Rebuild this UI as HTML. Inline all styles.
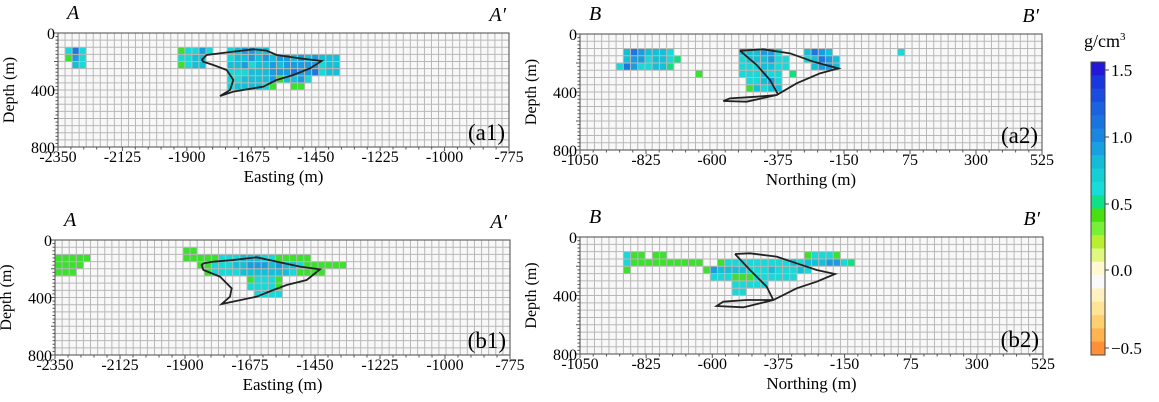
<!DOCTYPE html>
<html><head><meta charset="utf-8"><style>
body{margin:0;background:#fff;width:1159px;height:402px;overflow:hidden;font-family:"Liberation Serif",serif}
svg{position:absolute;left:0;top:0}
text{font-family:"Liberation Serif",serif}
</style></head><body>
<svg id="s" width="1159" height="402" xmlns="http://www.w3.org/2000/svg" font-family="'Liberation Serif', serif"></svg>
<script>
(function(){
const S=document.getElementById('s');let h='';
const C={c:'#18d8d8',t:'#14c0d8',b:'#1a9ce0',d:'#1a78e0',g:'#3ee030',e:'#10e080'};
function panel(L,R,T,B,xt,xl,lab,cells,contours,ll,rl){
 const cw=(R-L)/64,ch=(B-T)/16;
 h+=`<rect x="${L}" y="${T}" width="${R-L}" height="${B-T}" fill="#f8f8f8"/>`;
 for(const [r,c0,s] of cells){for(let i=0;i<s.length;i++){const k=s[i];if(k!='.')h+=`<rect x="${L+(c0+i)*cw}" y="${T+r*ch}" width="${cw+.3}" height="${ch+.3}" fill="${C[k]}"/>`;}}
 for(let i=1;i<64;i++)h+=`<line x1="${L+i*cw}" y1="${T}" x2="${L+i*cw}" y2="${B}" stroke="#b8b8b8" stroke-width="1"/>`;
 for(let i=1;i<16;i++)h+=`<line x1="${L}" y1="${T+i*ch}" x2="${R}" y2="${T+i*ch}" stroke="#b8b8b8" stroke-width="1"/>`;
 h+=`<rect x="${L}" y="${T}" width="${R-L}" height="${B-T}" fill="none" stroke="#666" stroke-width="1.2"/>`;
 for(let i=0;i<=35;i++){const x=L+i*(R-L)/35;h+=`<line x1="${x}" y1="${B}" x2="${x}" y2="${B+(i%5==0?4:2.5)}" stroke="#555"/>`;}
 for(let i=0;i<=32;i++){const y=T+i*(B-T)/32;h+=`<line x1="${L}" y1="${y}" x2="${L-(i%8==0?4:2.5)}" y2="${y}" stroke="#555"/>`;}
 xt.forEach((t,i)=>{h+=`<text x="${L+i*(R-L)/7}" y="${B+15}" font-size="16" text-anchor="middle">${t}</text>`});
 [['0',T],['400',(T+B)/2],['800',B]].forEach(([t,y])=>h+=`<text x="${L-3}" y="${y+6}" font-size="16" text-anchor="end">${t}</text>`);
 h+=`<text x="${(L+R)/2}" y="${B+35}" font-size="17" text-anchor="middle">${xl}</text>`;
 h+=`<text transform="translate(${L-44},${(T+B)/2}) rotate(-90)" font-size="16" text-anchor="middle">Depth (m)</text>`;
 h+=`<text x="${R-4}" y="${B-7}" font-size="23" text-anchor="end">${lab}</text>`;
 h+=`<text x="${L+9}" y="${T-14}" font-size="20" font-style="italic">${ll}</text>`;
 h+=`<text x="${R-3}" y="${T-12}" font-size="20" font-style="italic" text-anchor="end">${rl}′</text>`;
 contours.forEach(p=>{h+=`<polyline points="${p.map(([x,y])=>x+','+y).join(' ')}" fill="none" stroke="#222" stroke-width="1.8"/>`});
}
const sc=(a,ox,oy)=>a.map(([x,y])=>[x/3+ox,y/3+oy]);
const XA=['-2350','-2125','-1900','-1675','-1450','-1225','-1000','-775'];
const XB=['-1050','-825','-600','-375','-150','75','300','525'];
panel(58,509,33,147,XA,'Easting (m)','(a1)',[
 [2,1,'cdc'],[3,1,'gbc'],[4,2,'tc'],
 [2,17,'gccbc'],[3,17,'cctt'],[4,17,'gctt'],
 [2,24,'ctbbtt'],[3,24,'cttbtbtbbtbtbttt'],[4,24,'ttbcttbtbbbbbctt'],[5,24,'ccctttbbbdbbdctt'],[6,24,'ccttttbgttbc'],[7,24,'cttttcg..gg']],
 [sc([[605,180],[620,165],[700,155],[760,148],[800,152],[830,165],[900,175],[965,183],[930,205],[880,225],[830,240],[790,260],[700,275],[660,288],[690,270],[700,240],[680,210],[640,195],[610,185],[605,180]],0,0)],'A','A');
panel(580,1042,34,150,XB,'Northing (m)','(a2)',[
 [2,6,'tdbtttc'],[3,6,'tbbcttce'],[4,5,'cdbcctte'],[5,16,'g'],
 [2,22,'tttbbc'],[3,22,'ctttbcc'],[4,22,'cccttcc'],[5,22,'ccctcc.e'],[6,23,'cctbc'],[7,23,'gtctt'],
 [2,31,'tdbt'],[3,31,'ctdbt'],[4,32,'tbbt'],[2,44,'c']],
 [sc([[630,152],[700,148],[780,160],[850,185],[925,205],[870,220],[800,250],[740,285],[650,305],[580,303],[600,295],[680,290],[740,285]],530,0),
  sc([[630,152],[680,195],[720,240],[745,285]],530,0)],'B','B');
panel(55,510,240,355,XA,'Easting (m)','(b1)',[
 [2,0,'ggggg'],[3,0,'gggg'],[4,0,'ggg'],
 [1,18,'gg'],[2,18,'gggggccctttccggggg'],[3,20,'ggcccttbbbtbttcgggggg'],[4,21,'gcccctttttttcgggg'],
 [5,27,'gcccg'],[6,27,'ccccg'],[7,28,'cccc']],
 [sc([[610,190],[640,185],[700,180],[770,172],[830,185],[900,200],[960,208],[920,240],[860,255],[820,270],[770,290],[665,312],[690,290],[695,265],[660,230],[610,210],[605,195],[610,190]],0,200)],'A','A');
panel(580,1043,237,354,XB,'Northing (m)','(b2)',[
 [2,6,'cgg.gg'],[3,6,'cgggggggggg'],[4,6,'g'],
 [2,31,'gcccg'],[3,22,'ccccccctctttbbce'],
 [3,17,'..gcc'],[4,17,'gbttttccctccctc'],[5,17,'.cccgggcccccc'],[6,21,'ccccc'],[7,21,'cc']],
 [sc([[615,162],[660,160],[740,170],[800,190],[860,210],[915,222],[860,245],[800,265],[730,300],[640,322],[560,318],[580,305],[650,300],[730,300]],530,200),
  sc([[615,162],[660,210],[710,260],[730,300]],530,200)],'B','B');
const cols=['#2418d8','#1a36de','#1a4ce0','#1a62e0','#1a74e0','#1a86e0','#18a0e0','#14bcd8','#14d0d4','#18dcd8','#10e088','#48e010','#78f038','#b8f030','#e0f880','#fff8d0','#fafafa','#fff2c0','#ffe498','#ffd070','#ffb450','#ff9038'];
const y0=62,y1=355,n=cols.length,bh=(y1-y0)/n;
cols.forEach((c,i)=>h+=`<rect x="1091" y="${y0+i*bh}" width="14" height="${bh+.5}" fill="${c}"/>`);
h+=`<rect x="1091" y="${y0}" width="14" height="${y1-y0}" fill="none" stroke="#444"/>`;
[['1.5',70],['1.0',137],['0.5',204],['0.0',270],['−0.5',348]].forEach(([t,y])=>{h+=`<line x1="1105" y1="${y}" x2="1109" y2="${y}" stroke="#444"/><text x="1111" y="${y+6}" font-size="17">${t}</text>`});
h+=`<text x="1084" y="47" font-size="18">g/cm<tspan font-size="11" dy="-7">3</tspan></text>`;
S.innerHTML=h;
})();
</script>
</body></html>
